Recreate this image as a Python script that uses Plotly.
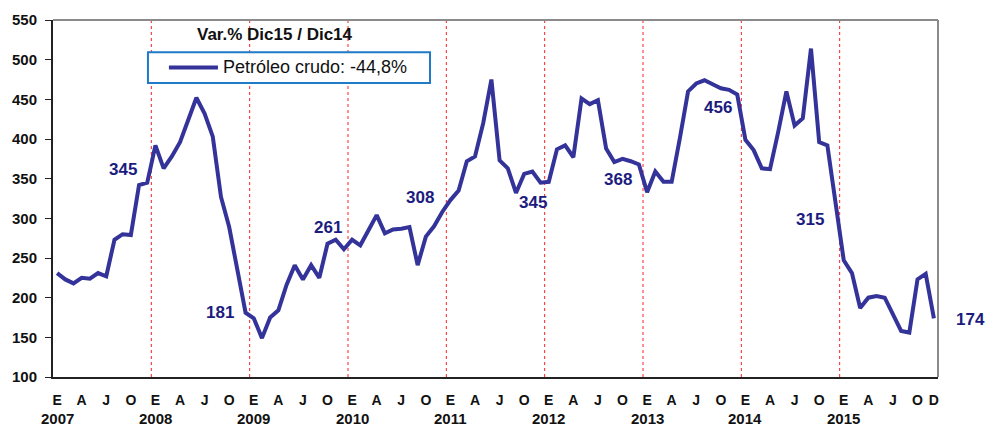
import plotly.graph_objects as go

# ---- Data ----
years = ["2007", "2008", "2009", "2010", "2011", "2012", "2013", "2014", "2015"]
month_letters = ["E", "A", "J", "O"]
petroleo = [
    231, 223, 218, 225, 224, 231, 227, 273, 280, 279, 342, 345,   # 2007
    392, 363, 378, 396, 424, 452, 432, 403, 327, 289, 235, 181,   # 2008
    174, 149, 175, 184, 216, 241, 223, 241, 225, 268, 273, 261,   # 2009
    273, 266, 285, 304, 281, 286, 287, 289, 241, 277, 290, 308,   # 2010
    323, 335, 372, 378, 420, 475, 373, 363, 332, 356, 359, 345,   # 2011
    346, 387, 392, 377, 451, 444, 449, 388, 371, 375, 372, 368,   # 2012
    333, 359, 346, 346, 401, 460, 470, 474, 469, 464, 462, 456,   # 2013
    399, 386, 363, 362, 409, 460, 417, 426, 514, 396, 392, 315,   # 2014
    247, 231, 187, 200, 202, 200, 178, 158, 156, 223, 230, 174,   # 2015
]
label_values = ["345", "181", "261", "308", "345", "368", "456", "315"]
label_x = [8.0, 19.9, 33.0, 44.3, 58.1, 68.5, 80.6, 91.9]
label_y = [361, 181, 288, 326, 320, 349, 440, 298]
last_label = "174"
last_label_y = 173
legend_title = "Var.% Dic15 / Dic14"
series_name = "Petróleo crudo: -44,8%"

FONT = "Arial, 'Liberation Sans', sans-serif"
LINE_COLOR = "#333399"
LABEL_COLOR = "#1c1c80"
TEXT_COLOR = "#111111"

x = list(range(len(petroleo)))

tickvals, ticktext = [], []
for yi, yr in enumerate(years):
    for mi, m in enumerate(month_letters):
        tickvals.append(yi * 12 + mi * 3)
        ticktext.append(m)
tickvals.append(len(petroleo) - 1)
ticktext.append("D")

fig = go.Figure()
fig.add_trace(go.Scatter(
    x=x, y=petroleo, mode="lines", name=series_name, showlegend=False,
    line=dict(color=LINE_COLOR, width=4),
))

shapes = []
for yi in range(1, len(years)):
    xv = yi * 12 - 0.5
    shapes.append(dict(type="line", xref="x", yref="paper", x0=xv, x1=xv, y0=0, y1=1,
                       line=dict(color="#ff2020", width=1, dash="dot"), layer="below"))
# gray top/right border
shapes.append(dict(type="line", xref="paper", yref="paper", x0=0, x1=1, y0=1, y1=1,
                   line=dict(color="#8a8a8a", width=2)))
shapes.append(dict(type="line", xref="paper", yref="paper", x0=1, x1=1, y0=0, y1=1,
                   line=dict(color="#8a8a8a", width=2)))
# legend box (drawn manually)
shapes.append(dict(type="rect", xref="paper", yref="paper", x0=0.1073, x1=0.426, y0=0.8235, y1=0.910,
                   line=dict(color="#1f7ac8", width=2), fillcolor="white"))
shapes.append(dict(type="line", xref="paper", yref="paper", x0=0.131, x1=0.1864, y0=0.867, y1=0.867,
                   line=dict(color=LINE_COLOR, width=4)))

annotations = []
for t, ax_, ay_ in zip(label_values, label_x, label_y):
    annotations.append(dict(x=ax_, y=ay_, xref="x", yref="y", text=f"<b>{t}</b>",
                            showarrow=False, xanchor="center", yanchor="middle",
                            font=dict(family=FONT, size=17, color=LABEL_COLOR)))
annotations.append(dict(x=1.037, y=last_label_y, xref="paper", yref="y", text=f"<b>{last_label}</b>",
                        showarrow=False, xanchor="center", yanchor="middle",
                        font=dict(family=FONT, size=17, color=LABEL_COLOR)))
annotations.append(dict(x=0.251, y=0.958, xref="paper", yref="paper", text=f"<b>{legend_title}</b>",
                        showarrow=False, xanchor="center", yanchor="middle",
                        font=dict(family=FONT, size=17, color=TEXT_COLOR)))
annotations.append(dict(x=0.1898, y=0.867, xref="paper", yref="paper", text=series_name,
                        showarrow=False, xanchor="left", yanchor="middle",
                        font=dict(family=FONT, size=18, color=TEXT_COLOR)))
for yi, yr in enumerate(years):
    annotations.append(dict(x=yi * 12, y=-0.1176, xref="x", yref="paper", text=f"<b>{yr}</b>",
                            showarrow=False, xanchor="center", yanchor="middle",
                            font=dict(family=FONT, size=15, color=TEXT_COLOR)))

fig.update_layout(
    width=987, height=426,
    margin=dict(l=53, r=49, t=20, b=49),
    paper_bgcolor="white", plot_bgcolor="white",
    showlegend=False,
    shapes=shapes,
    annotations=annotations,
    font=dict(family=FONT),
)
fig.update_xaxes(
    range=[-0.5, len(petroleo) - 0.5],
    tickmode="array", tickvals=tickvals, ticktext=ticktext,
    tickangle=0, automargin=False,
    showgrid=False, zeroline=False,
    showline=True, linecolor="#222222", linewidth=2,
    ticks="", ticklabelstandoff=9,
    tickfont=dict(family=FONT, size=14, color=TEXT_COLOR, weight="bold"),
)
fig.update_yaxes(
    range=[100, 550], dtick=50, tick0=100, automargin=False,
    showgrid=False, zeroline=False,
    showline=True, linecolor="#222222", linewidth=2,
    ticks="outside", ticklen=6, tickcolor="#222222", ticklabelstandoff=5,
    tickfont=dict(family=FONT, size=15, color=TEXT_COLOR, weight="bold"),
)

# remove the default 8px page margin so the figure fills the window exactly
fig.write_html("out.html",
               config={"displayModeBar": False},
               post_script="document.body.style.margin='0';document.body.style.overflow='hidden';")
